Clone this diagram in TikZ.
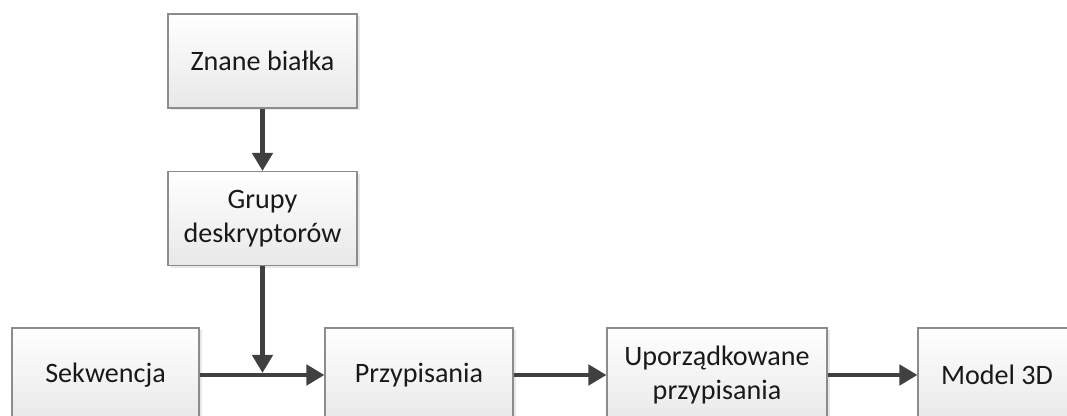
\documentclass[tikz,border=0pt]{standalone}
\usepackage{fontspec}
\setmainfont{Carlito}
\usetikzlibrary{arrows.meta,shadows}
\definecolor{strzalka}{HTML}{404040}
\definecolor{ramka}{HTML}{8C8C8C}
\begin{document}
\begin{tikzpicture}
        \tikzstyle{blok}=[draw=ramka, line width=0.6pt, top color=white, bottom color=black!9, align=center, inner sep=0pt,
            minimum width=3.78cm, minimum height=1.88cm, font=\fontsize{16}{19}\selectfont, text=black!90,
            drop shadow={opacity=0.18, shadow xshift=0.05cm, shadow yshift=-0.05cm}]
        \tikzstyle{strz}=[draw=strzalka, line width=2.7pt, -{Triangle[length=0.36cm,width=0.4cm]}, fill=strzalka]
        \useasboundingbox (0,0) rectangle (21.34,8.32);
        \clip (0,0) rectangle (21.34,8.32);
        \node[blok] (znane) at (5.25,7.1) {Znane białka};
        \node[blok] (grupy) at (5.25,3.95) {Grupy\\deskryptorów};
        \node[blok, minimum width=3.74cm] (sekw) at (2.11,0.82) {Sekwencja};
        \node[blok, minimum width=3.76cm] (przyp) at (8.38,0.82) {Przypisania};
        \node[blok, minimum width=4.4cm] (uporz) at (14.34,0.82) {Uporządkowane\\przypisania};
        \node[blok, minimum width=3.16cm] (model) at (19.94,0.82) {Model 3D};
        \coordinate (zbieg) at (grupy.south |- sekw.east);
        \draw[strz] (znane) -- (grupy);
        \draw[strz] (grupy) -- ([yshift=0.04cm]zbieg);
        \draw[strz] (sekw) -- (przyp);
        \draw[strz] (przyp) -- (uporz);
        \draw[strz] (uporz) -- (model);
    \end{tikzpicture}
\end{document}
